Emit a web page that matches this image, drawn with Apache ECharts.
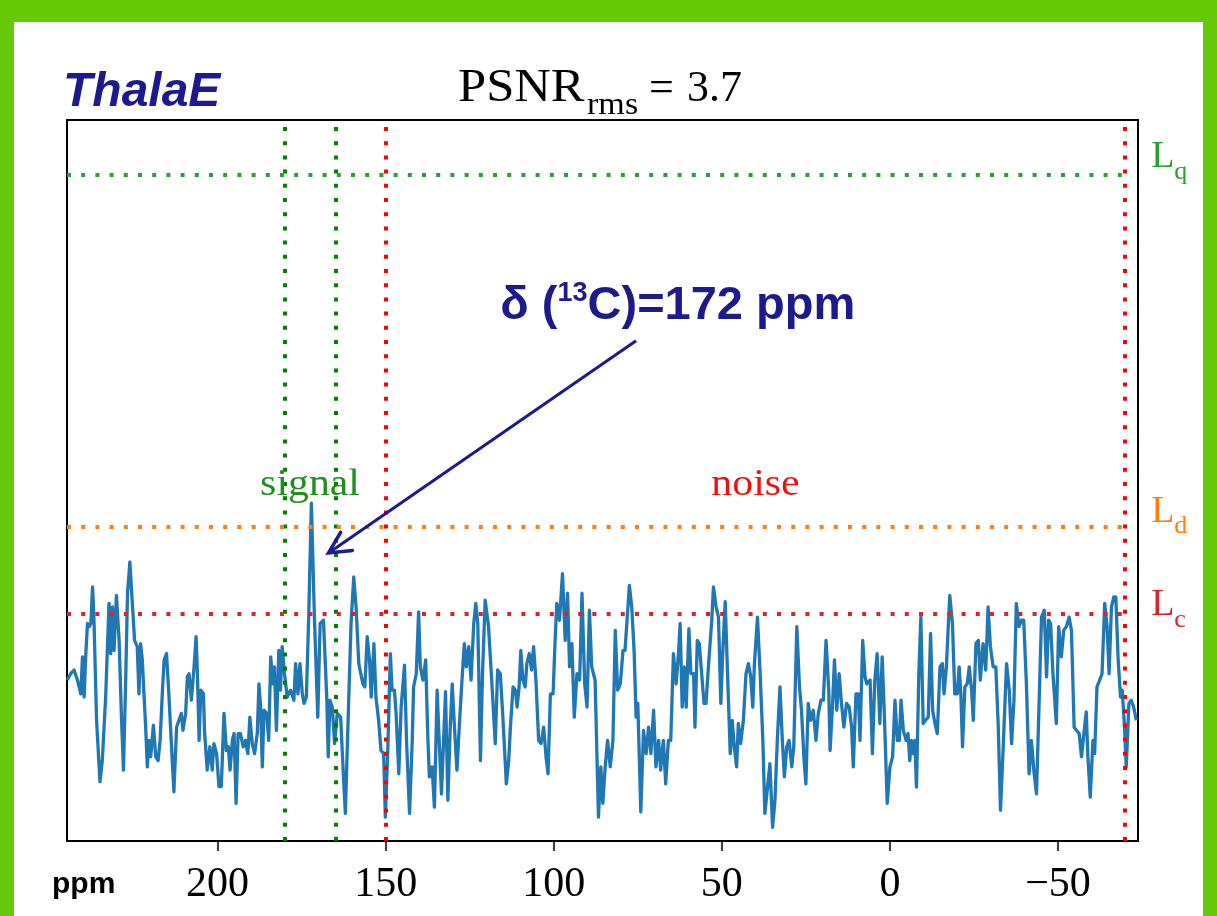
<!DOCTYPE html>
<html>
<head>
<meta charset="utf-8">
<script src="https://cdn.jsdelivr.net/npm/echarts@6/dist/echarts.min.js"></script>
<style>
html,body{margin:0;padding:0;background:#fff;}
#c{width:1217px;height:916px;}
</style>
</head>
<body>
<div id="c"></div>
<script>
// ---- DATA (chemical shift in ppm, intensity in units of the rms noise) ----
const ppm = [
244.7,243.7,242.7,241.7,240.7,240.2,239.7,239.2,238.7,238.2,
237.7,237.2,236.8,236.0,235.6,235.0,234.3,233.3,232.3,231.8,
231.3,230.8,230.1,229.3,228.6,228.0,227.3,226.8,226.1,225.3,
224.7,223.9,223.4,222.9,222.4,221.9,221.4,220.9,220.4,219.9,
219.1,218.4,217.7,217.1,216.4,215.9,215.2,214.5,213.8,213.0,
212.2,211.5,210.8,210.3,209.5,209.0,208.5,207.8,207.0,206.4,
206.0,205.5,205.0,204.2,203.9,203.1,202.3,201.6,201.1,200.3,
199.6,198.9,198.1,197.4,196.8,196.3,195.6,195.1,194.5,193.9,
193.2,192.4,191.7,191.0,190.4,189.7,189.0,188.2,187.7,187.2,
186.7,186.2,185.4,184.8,184.2,183.6,183.1,182.5,181.8,181.3,
180.8,180.1,179.3,178.3,177.3,176.8,176.1,175.5,174.8,174.3,
173.6,172.9,172.1,171.2,170.2,169.5,168.5,167.5,167.1,166.6,
165.9,165.2,164.4,163.4,162.6,162.0,161.0,160.3,159.5,158.8,
158.0,
156.8,156.2,155.5,154.8,154.3,153.5,152.9,152.1,151.4,150.6,
150.1,149.4,148.6,148.1,147.4,146.9,146.1,145.4,144.4,143.8,
142.9,142.1,141.7,140.9,140.2,139.7,138.9,138.1,137.5,137.0,
136.2,135.5,134.7,134.0,133.4,132.7,132.2,131.5,130.8,130.2,
129.6,128.8,128.0,127.3,126.6,126.0,125.3,124.6,123.8,123.2,
122.6,121.8,121.2,120.4,119.4,118.4,117.4,116.7,115.9,115.2,
114.1,113.4,112.9,112.1,111.4,110.9,110.3,109.8,109.2,108.5,
108.0,107.3,106.6,106.0,105.3,104.5,103.8,103.0,102.3,101.7,
101.0,100.2,99.6,99.1,98.3,97.4,96.6,95.9,95.3,94.6,
93.9,93.1,92.3,91.6,90.8,90.1,89.4,88.7,87.7,86.7,
86.0,85.4,84.7,84.0,83.2,82.4,81.7,81.0,80.2,79.4,
78.8,77.5,
76.8,76.1,75.5,75.0,74.1,73.3,72.5,71.8,71.1,70.3,
69.6,68.8,68.2,67.4,66.7,65.9,65.2,64.4,63.6,62.9,
62.4,61.8,61.2,60.6,59.8,59.2,58.4,58.0,57.3,56.7,
56.0,55.3,54.7,54.0,53.0,52.5,51.7,51.0,50.3,49.7,
49.0,48.3,47.5,46.9,46.3,45.6,45.1,44.4,43.6,42.8,
42.1,41.4,40.8,40.3,39.4,38.6,37.8,37.2,36.4,35.7,
34.9,34.2,33.5,32.7,32.0,31.4,30.7,30.0,29.2,28.6,
27.7,26.9,26.3,25.6,25.0,24.3,23.6,22.8,22.0,21.3,
20.5,19.8,19.0,18.2,17.8,17.1,16.5,15.8,15.1,14.4,
13.7,12.9,12.1,11.4,10.9,10.1,9.4,8.9,8.1,7.4,
6.9,5.9,5.2,4.5,3.8,3.0,2.3,1.7,0.8,0.0,
-0.8,
-1.5,-2.2,-2.8,-3.3,-4.0,-4.8,-5.4,-5.9,-6.4,-6.9,
-7.4,-7.9,-8.6,-9.2,-9.9,-10.6,-11.4,-12.1,-12.7,-13.4,
-14.1,-14.9,-15.6,-16.1,-16.8,-17.8,-18.6,-19.3,-20.0,-20.6,
-21.1,-21.6,-22.3,-23.0,-23.6,-24.3,-24.8,-25.6,-26.3,-26.9,
-27.7,-28.5,-29.2,-29.9,-30.7,-31.5,-32.2,-32.9,-33.7,-34.7,
-35.5,-36.2,-36.9,-37.6,-38.4,-39.1,-39.8,-40.6,-41.4,-42.1,
-42.8,-43.6,-44.4,-45.1,-45.9,-46.6,-47.2,-47.8,-48.5,-49.5,
-50.2,-51.0,-51.7,-52.5,-53.3,-54.0,-54.8,-55.5,-56.3,-57.0,
-57.7,-58.4,-58.9,-59.6,-60.4,-60.9,-61.6,-62.4,-63.1,-63.9,
-64.6,-65.2,-65.9,-66.6,-67.2,-67.9,-68.6,-69.1,-69.8,-70.3,
-71.1,-71.8,-72.5,-73.3
];
const intensity = [
0.40,0.52,0.59,0.40,0.14,0.84,0.08,0.90,1.47,1.41,
1.47,2.16,1.59,-0.36,-0.36,-1.52,-1.12,0.08,1.85,0.90,
1.78,0.96,2.00,1.15,-0.30,-1.30,0.52,2.04,2.63,1.78,
1.15,1.03,0.14,1.09,0.78,0.14,-0.49,-1.24,-0.74,-1.05,
-0.45,-1.05,-1.12,-0.74,0.21,0.78,0.90,0.14,-0.74,-1.71,
-0.49,-0.36,-0.23,-0.55,-0.23,0.46,0.52,0.02,0.65,1.22,
0.52,-0.74,0.21,0.14,-0.55,-1.30,-0.86,-1.30,-0.80,-0.99,
-1.61,-1.61,-0.23,-0.93,-0.86,-1.30,-0.74,-0.61,-1.93,-0.61,
-0.61,-0.86,-0.74,-0.99,-0.30,-0.80,-0.99,-0.61,0.33,-0.11,
-1.24,-0.17,-0.23,-0.74,0.84,0.33,0.65,-0.55,0.96,0.21,
1.03,0.52,0.08,0.21,0.02,0.71,0.14,0.71,0.14,-0.04,
0.08,1.59,3.74,1.59,-0.30,1.47,1.53,0.02,-1.05,0.02,
-0.11,-0.80,-0.23,-0.30,-1.37,-2.12,0.02,1.47,2.35,1.78,
0.71,
0.33,0.27,1.22,0.78,0.08,1.09,0.08,-0.36,-0.93,-0.99,
-2.19,-0.99,0.90,0.21,0.21,-0.23,-1.37,-0.11,0.68,-0.74,
-2.12,-0.74,0.27,0.52,1.69,0.65,0.40,0.78,-0.61,-1.43,
-1.24,-2.00,0.21,-0.86,-1.75,-0.61,0.18,-1.87,-0.49,0.33,
-0.42,-1.30,-0.36,0.40,1.09,0.65,1.03,0.40,1.47,1.85,
1.47,-1.12,0.52,1.91,1.41,0.33,-0.80,0.59,0.52,-0.23,
-1.56,-1.12,-0.49,0.27,0.21,-0.11,0.27,0.96,0.40,0.27,
0.71,0.90,0.59,1.03,0.40,-0.74,-0.80,-0.49,-1.05,-1.37,
0.14,0.14,1.15,1.85,1.53,2.41,1.15,2.04,0.65,1.09,
-0.30,0.52,0.40,2.04,0.33,-0.11,1.72,0.65,0.40,-2.19,
-1.24,-1.93,-1.24,-0.74,-1.24,-0.74,1.34,0.21,0.33,0.96,
0.96,2.19,
1.78,0.96,-0.30,-0.04,-2.09,-0.55,-0.99,-0.49,-0.99,-0.17,
-1.24,-0.74,-1.30,-0.74,-1.56,-0.74,-0.74,0.90,0.33,0.90,
1.47,-0.11,0.65,-0.11,1.37,0.52,0.52,-0.49,1.15,1.09,
0.52,-0.04,-0.04,0.65,1.53,2.16,1.78,1.59,-0.04,0.96,
1.88,0.52,-0.99,-0.36,-0.86,-1.24,-0.42,-0.80,-0.36,0.52,
0.71,0.46,-0.11,0.71,1.59,0.52,-0.74,-2.12,-1.62,-1.18,
-2.38,-1.87,-0.74,0.27,-0.74,-1.43,-0.86,-0.74,-1.24,-0.86,
1.41,0.27,-0.17,-1.05,-1.56,-0.04,-0.36,-0.17,-0.74,-0.23,
0.02,0.02,1.15,0.21,-0.93,-0.11,0.78,-0.17,0.52,-0.04,
-0.49,-0.04,-0.11,-0.49,-1.24,0.14,0.14,-0.74,1.15,0.46,
0.33,0.40,-0.99,0.40,0.90,-0.42,0.84,-0.17,-1.93,-1.24,
-1.05,
0.02,-0.74,-0.74,0.02,-0.55,-0.74,-0.61,-1.12,-0.74,-0.99,
-0.74,-1.62,0.52,1.59,-0.42,-0.36,-0.30,1.28,-0.17,-0.42,
-0.61,0.65,0.71,0.14,0.65,2.00,1.47,0.14,0.14,0.65,
0.14,-0.86,0.27,0.33,0.65,0.21,-0.36,1.09,1.15,0.40,
1.09,0.59,1.78,1.03,0.65,0.65,-0.42,-2.06,-0.86,0.71,
0.21,-0.80,0.02,1.85,1.41,1.53,1.53,0.33,-1.37,-0.74,
-1.30,-1.75,0.02,1.59,1.72,0.46,1.53,1.47,0.52,-0.42,
1.41,0.84,1.34,1.41,1.59,1.34,-0.49,-0.55,-0.61,-1.05,
-0.61,-0.20,-1.05,-1.81,-0.74,-0.99,0.27,0.40,0.52,1.85,
1.41,0.52,1.78,1.97,1.97,0.78,0.08,0.21,-0.49,-1.24,
-0.04,0.02,-0.11,-0.36
];
const xTicks = [200, 150, 100, 50, 0, -50];
const xRange = [-73.8, 244.8];
const yRange = [-2.64, 10.98];

const signalBounds = [180, 165];
const noiseBounds = [150, -70];

const limitSubs = ['c', 'd', 'q'];
const limitValues = [1.645, 3.29, 9.95];
const limitLabelY = [1.59, 3.36, 10.06];

const regionLabels = ['signal', 'noise'];
const regionLabelX = [172.5, 40];
const regionLabelY = 3.86;

const annotationAnchor = [115.9, 7.20];   // left / baseline of the annotation text
const arrowTail = [75.5, 6.81];
const arrowTip = [167.0, 2.80];

// ---- STYLE ----
const SERIF = '"Liberation Serif","Times New Roman",serif';
const SANS = '"Liberation Sans",Arial,sans-serif';
const NAVY = '#1c1a8c';
const limitColors = ['#d62728', '#ff7f0e', '#2ca02c'];
const limitLabelColors = ['#d62728', '#ff7f0e', '#2ca02c'];
const regionColors = ['#1f8f1f', '#ee1111'];

function dotted(color) { return { color: color, type: [4, 10.2], width: 4, cap: 'butt', opacity: 1 }; }

const chart = echarts.init(document.getElementById('c'), null, { renderer: 'canvas', width: 1217, height: 916 });

const seriesData = ppm.map((x, i) => [x, intensity[i]]);

const mlData = [];
signalBounds.forEach(v => mlData.push({ xAxis: v, lineStyle: dotted('#008000') }));
noiseBounds.forEach(v => mlData.push({ xAxis: v, lineStyle: dotted('#ff0000') }));
limitValues.forEach((v, i) => mlData.push([
  { coord: [xRange[1], v], lineStyle: dotted(limitColors[i]) },
  { coord: [noiseBounds[1], v], lineStyle: dotted(limitColors[i]) }
]));

const staticGraphics = [
  { type: 'rect', id: 'bg', z: -100, shape: { x: 14, y: 22, width: 1189, height: 894 }, style: { fill: '#ffffff' } },
  { type: 'text', id: 'ttl', x: 63, y: 108 - 0.31 * 48, z: 50,
    style: { text: 'ThalaE', x: 0, y: 0, align: 'left', verticalAlign: 'middle', font: 'italic bold 48px ' + SANS, fill: NAVY } },
  { type: 'text', id: 'psnr', x: 458, y: 103 - 0.305 * 46, scaleX: 1.1, z: 50,
    style: { text: 'PSNR', x: 0, y: 0, align: 'left', verticalAlign: 'middle', font: '46px ' + SERIF, fill: '#000' } },
  { type: 'text', id: 'rms', x: 587, y: 115 - 0.305 * 31, scaleX: 1.1, z: 50,
    style: { text: 'rms', x: 0, y: 0, align: 'left', verticalAlign: 'middle', font: '31px ' + SERIF, fill: '#000' } },
  { type: 'text', id: 'eq', x: 649, y: 103 - 0.305 * 44, z: 50,
    style: { text: '=', x: 0, y: 0, align: 'left', verticalAlign: 'middle', font: '44px ' + SERIF, fill: '#000' } },
  { type: 'text', id: 'val', x: 687, y: 103 - 0.305 * 44, z: 50,
    style: { text: '3.7', x: 0, y: 0, align: 'left', verticalAlign: 'middle', font: '44px ' + SERIF, fill: '#000' } },
  { type: 'text', id: 'ppmlbl', x: 52, y: 894 - 0.31 * 30, z: 50,
    style: { text: 'ppm', x: 0, y: 0, align: 'left', verticalAlign: 'middle', font: 'bold 30px ' + SANS, fill: '#000' } }
];

const option = {
  animation: false,
  backgroundColor: '#66c808',
  grid: { left: 67, right: 79, top: 120, bottom: 75, show: true, borderColor: '#000', borderWidth: 2, backgroundColor: '#fff' },
  xAxis: {
    type: 'value', inverse: true, min: xRange[0], max: xRange[1],
    splitLine: { show: false },
    axisLine: { show: true, onZero: false, lineStyle: { color: '#000', width: 2 } },
    axisTick: { show: true, length: 10, customValues: xTicks, lineStyle: { color: '#000', width: 1.5 } },
    axisLabel: { customValues: xTicks, margin: 23, fontFamily: SERIF, fontSize: 42, color: '#000',
      formatter: v => (v < 0 ? '\u2212' + Math.abs(v) : String(v)) }
  },
  yAxis: {
    type: 'value', min: yRange[0], max: yRange[1],
    splitLine: { show: false },
    axisLine: { show: true, onZero: false, lineStyle: { color: '#000', width: 2 } },
    axisTick: { show: false }, axisLabel: { show: false }
  },
  series: [{
    type: 'line', data: seriesData, symbol: 'none', showSymbol: false, smooth: false,
    lineStyle: { color: '#1f77b4', width: 3.3, join: 'round' }, itemStyle: { color: '#1f77b4' },
    markLine: { silent: true, symbol: ['none', 'none'], label: { show: false }, animation: false, data: mlData }
  }],
  graphic: staticGraphics
};
chart.setOption(option);

// ---- annotations positioned through the chart's own scales ----
const P = (x, y) => chart.convertToPixel({ gridIndex: 0 }, [x, y]);
const dyn = [];

regionLabels.forEach((t, i) => {
  const p = P(regionLabelX[i], regionLabelY);
  dyn.push({ type: 'text', id: 'reg' + i, x: p[0], y: p[1] - 0.305 * 38, scaleX: 1.1, z: 60,
    style: { text: t, x: 0, y: 0, align: 'center', verticalAlign: 'middle', font: '38px ' + SERIF, fill: regionColors[i] } });
});

limitValues.forEach((v, i) => {
  const p = P(noiseBounds[1], limitLabelY[i]);
  dyn.push({ type: 'text', id: 'lL' + i, x: p[0] + 26, y: p[1] - 0.305 * 38, z: 60,
    style: { text: 'L', x: 0, y: 0, align: 'left', verticalAlign: 'middle', font: '38px ' + SERIF, fill: limitLabelColors[i] } });
  dyn.push({ type: 'text', id: 'lS' + i, x: p[0] + 49, y: p[1] + 11 - 0.305 * 26, z: 60,
    style: { text: limitSubs[i], x: 0, y: 0, align: 'left', verticalAlign: 'middle', font: '26px ' + SERIF, fill: limitLabelColors[i] } });
});

const ta = P(annotationAnchor[0], annotationAnchor[1]);
dyn.push({ type: 'text', id: 'ann', x: ta[0], y: ta[1] - 40, z: 70,
  style: {
    text: '{d|\u03b4}{n| (}{s|13}{n|C)=172 ppm}', x: 0, y: 0, align: 'left', verticalAlign: 'top',
    rich: {
      d: { fontFamily: SANS, fontWeight: 'bold', fontSize: 47, lineHeight: 52, fill: NAVY, color: NAVY },
      n: { fontFamily: SANS, fontWeight: 'bold', fontSize: 47, lineHeight: 52, fill: NAVY, color: NAVY },
      s: { fontFamily: SANS, fontWeight: 'bold', fontSize: 27, lineHeight: 27, verticalAlign: 'top', fill: NAVY, color: NAVY }
    },
    fill: NAVY
  } });

const tl = P(arrowTail[0], arrowTail[1]);
const tp = P(arrowTip[0], arrowTip[1]);
const dx = tl[0] - tp[0], dy = tl[1] - tp[1];
const len = Math.hypot(dx, dy), ux = dx / len, uy = dy / len;
const rot = a => [ux * Math.cos(a) - uy * Math.sin(a), ux * Math.sin(a) + uy * Math.cos(a)];
const r1 = rot(0.50), r2 = rot(-0.44), HL = 24;
dyn.push({ type: 'polyline', id: 'shaft', z: 70, shape: { points: [tl, tp] }, style: { stroke: NAVY, lineWidth: 3, fill: null } });
dyn.push({ type: 'polyline', id: 'head', z: 70,
  shape: { points: [[tp[0] + r1[0] * HL, tp[1] + r1[1] * HL], tp, [tp[0] + r2[0] * HL, tp[1] + r2[1] * HL]] },
  style: { stroke: NAVY, lineWidth: 3.5, fill: null, lineJoin: 'miter', lineCap: 'round' } });

chart.setOption({ graphic: staticGraphics.concat(dyn) });
</script>
</body>
</html>
